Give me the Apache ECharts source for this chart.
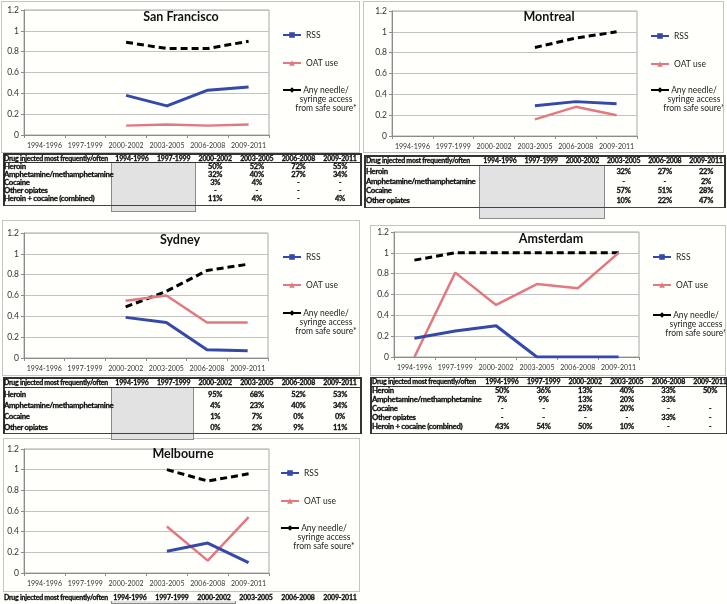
<!DOCTYPE html>
<html>
<head>
<meta charset="utf-8">
<script src="https://cdn.jsdelivr.net/npm/echarts@6/dist/echarts.min.js"></script>
<style>
  html, body { margin: 0; padding: 0; background: #fffffb; }
  #chart { position: absolute; left: 0; top: 0; width: 727px; height: 604px; }
  #overlay { position: absolute; left: 0; top: 0; width: 727px; height: 604px; pointer-events: none; }
  .t { position: absolute; white-space: nowrap; line-height: 1; font-family: Lato, "Liberation Sans", sans-serif;
       font-weight: bold; color: #111; -webkit-text-stroke: 0.3px #111; }
</style>
</head>
<body>
<div id="chart"></div>
<div id="overlay"></div>
<script>
// ---- data ----
const periods = ['1994-1996', '1997-1999', '2000-2002', '2003-2005', '2006-2008', '2009-2011'];
const seriesNames = ['RSS', 'OAT use', 'Any needle/\nsyringe access\nfrom safe soure*'];

const sfRss = [null, null, 0.38, 0.28, 0.43, 0.46];
const sfOat = [null, null, 0.09, 0.10, 0.09, 0.10];
const sfAny = [null, null, 0.89, 0.83, 0.83, 0.90];

const mtRss = [null, null, null, 0.29, 0.33, 0.31];
const mtOat = [null, null, null, 0.16, 0.28, 0.20];
const mtAny = [null, null, null, 0.85, 0.94, 1.00];

const syRss = [null, null, 0.39, 0.34, 0.08, 0.07];
const syOat = [null, null, 0.55, 0.60, 0.34, 0.34];
const syAny = [null, null, 0.49, 0.64, 0.84, 0.90];

const amRss = [0.18, 0.25, 0.30, 0, 0, 0];
const amOat = [0, 0.81, 0.50, 0.70, 0.66, 1.00];
const amAny = [0.93, 1, 1, 1, 1, 1];

const mbRss = [null, null, null, 0.21, 0.29, 0.10];
const mbOat = [null, null, null, 0.45, 0.12, 0.54];
const mbAny = [null, null, null, 1.00, 0.89, 0.96];

const tableHeader = 'Drug injected most frequently/often';
const drugLabels = ['Heroin', 'Amphetamine/methamphetamine', 'Cocaine', 'Other opiates', 'Heroin + cocaine (combined)'];

const sfShare = [
  ['', '', '50%', '52%', '72%', '55%'],
  ['', '', '32%', '40%', '27%', '34%'],
  ['', '', '3%', '4%', '-', '-'],
  ['', '', '-', '-', '-', '-'],
  ['', '', '11%', '4%', '-', '4%']
];
const mtShare = [
  ['', '', '', '32%', '27%', '22%'],
  ['', '', '', '-', '-', '2%'],
  ['', '', '', '57%', '51%', '28%'],
  ['', '', '', '10%', '22%', '47%']
];
const syShare = [
  ['', '', '95%', '68%', '52%', '53%'],
  ['', '', '4%', '23%', '40%', '34%'],
  ['', '', '1%', '7%', '0%', '0%'],
  ['', '', '0%', '2%', '9%', '11%']
];
const amShare = [
  ['50%', '36%', '13%', '40%', '33%', '50%'],
  ['7%', '9%', '13%', '20%', '33%', ''],
  ['-', '-', '25%', '20%', '-', '-'],
  ['-', '-', '-', '-', '33%', '-'],
  ['43%', '54%', '50%', '10%', '-', '-']
];

// ---- layout ----
const panels = [
  { title: 'San Francisco', rss: sfRss, oat: sfOat, any: sfAny,
    grid: { left: 24, top: 10, width: 245, height: 125 }, titleAt: [181, 10],
    legendX: 282, legendY: [35, 63, 90] },
  { title: 'Montreal', rss: mtRss, oat: mtOat, any: mtAny,
    grid: { left: 392, top: 11, width: 245, height: 125 }, titleAt: [549, 10],
    legendX: 650, legendY: [36, 64, 90] },
  { title: 'Sydney', rss: syRss, oat: syOat, any: syAny,
    grid: { left: 24, top: 233, width: 244, height: 125 }, titleAt: [180, 233],
    legendX: 282, legendY: [257, 285, 313] },
  { title: 'Amsterdam', rss: amRss, oat: amOat, any: amAny,
    grid: { left: 394, top: 232, width: 245, height: 125 }, titleAt: [551, 232],
    legendX: 652, legendY: [257, 285, 315] },
  { title: 'Melbourne', rss: mbRss, oat: mbOat, any: mbAny,
    grid: { left: 24, top: 449, width: 245, height: 124 }, titleAt: [183, 447],
    legendX: 280, legendY: [473, 501, 528] }
];

const frames = [
  [1, 1, 359, 152], [363, 1, 361, 152], [2, 220, 358, 156], [370, 225, 356, 151], [3, 438, 357, 154]
];

const tables = [
  { rows: sfShare, x0: 3, x1: 360, c0: 132, step: 41.6, headTop: 153, headBot: 162, headY: 157.5,
    rowY: [167, 175, 183, 191, 199], bottom: 205, grey: [111, 195, 162, 212], labelX: 4 },
  { rows: mtShare, x0: 364, x1: 724, c0: 500, step: 41.2, headTop: 155, headBot: 165, headY: 160,
    rowY: [172, 181.5, 191, 200.5], bottom: 207, grey: [479, 604, 165, 219], labelX: 366 },
  { rows: syShare, x0: 3, x1: 360, c0: 132, step: 41.6, headTop: 377, headBot: 387, headY: 382,
    rowY: [395, 405.5, 416.5, 427.5], bottom: 433, grey: [111, 193, 387, 440], labelX: 4 },
  { rows: amShare, x0: 370, x1: 726, c0: 502, step: 41.6, headTop: 376.5, headBot: 385.5, headY: 381,
    rowY: [391, 400, 409, 418, 427], bottom: 432.5, grey: null, labelX: 372 },
  { rows: null, x0: 3, x1: 360, c0: 130, step: 42, headY: 597, grey: [111, 235, 601, 604], labelX: 4 }
];

// ---- chart ----
const axisGrey = '#8c8c8c';
const legendFont = { fontFamily: 'Lato', fontSize: 8.5, lineHeight: 9, color: '#222' };
const option = {
  animation: false,
  backgroundColor: '#fffffb',
  textStyle: { fontFamily: 'Lato' },
  title: [], grid: [], xAxis: [], yAxis: [], legend: [], series: []
};

panels.forEach((p, i) => {
  option.title.push({
    text: p.title, left: p.titleAt[0], top: p.titleAt[1], textAlign: 'center', padding: 0,
    textStyle: { fontFamily: 'Lato', fontSize: 12.5, fontWeight: 'bold', color: '#111' }
  });
  option.grid.push(Object.assign({ show: true, borderColor: '#a8a8a8', borderWidth: 1 }, p.grid));
  option.xAxis.push({
    type: 'category', gridIndex: i, data: periods, boundaryGap: true,
    axisLine: { lineStyle: { color: axisGrey } },
    axisTick: { show: true, length: 3, interval: 0, lineStyle: { color: axisGrey } },
    axisLabel: { interval: 0, fontSize: 7, color: '#333', margin: 7 }
  });
  option.yAxis.push({
    type: 'value', gridIndex: i, min: 0, max: 1.2, interval: 0.2,
    axisLine: { show: true, lineStyle: { color: axisGrey } },
    axisTick: { show: true, length: 3, lineStyle: { color: axisGrey } },
    splitLine: { lineStyle: { color: '#c2c2c2' } },
    axisLabel: { fontSize: 8.5, color: '#333', margin: 5 }
  });
  option.series.push(
    { type: 'line', name: seriesNames[0], xAxisIndex: i, yAxisIndex: i, data: p.rss,
      symbol: 'rect', symbolSize: 6, showSymbol: false, z: 4,
      lineStyle: { color: '#3549aa', width: 3 }, itemStyle: { color: '#3549aa' } },
    { type: 'line', name: seriesNames[1], xAxisIndex: i, yAxisIndex: i, data: p.oat,
      symbol: 'triangle', symbolSize: 7, showSymbol: false, z: 3,
      lineStyle: { color: '#e27880', width: 2.5 }, itemStyle: { color: '#e27880' } },
    { type: 'line', name: seriesNames[2], xAxisIndex: i, yAxisIndex: i, data: p.any,
      symbol: 'diamond', symbolSize: 7, showSymbol: false, z: 2,
      lineStyle: { color: '#000', width: 3, type: [7, 4] }, itemStyle: { color: '#000' } }
  );
  seriesNames.forEach((nm, k) => {
    const multi = k === 2;
    const lg = {
      orient: 'vertical', left: p.legendX, top: p.legendY[k] - (multi ? 22.5 : 4.5),
      padding: 0, itemWidth: 18, itemHeight: 7, selectedMode: false,
      textStyle: Object.assign({}, legendFont), data: [nm]
    };
    if (multi) {
      // first text line sits level with the icon, lines centred like the original
      lg.formatter = n => '{c| }\n{c| }\n' + n.split('\n').map(s => '{c|' + s + '}').join('\n');
      lg.textStyle.rich = { c: Object.assign({ width: 40, align: 'center' }, legendFont) };
      lg.lineStyle = { type: 'solid' };
    }
    option.legend.push(lg);
  });
});

const chart = echarts.init(document.getElementById('chart'));
chart.setOption(option);

// ---- frames and tables ----
const overlay = document.getElementById('overlay');
function box(x, y, w, h, css) {
  const d = document.createElement('div');
  d.style.cssText = `position:absolute;left:${x}px;top:${y}px;width:${w}px;height:${h}px;box-sizing:border-box;${css}`;
  overlay.appendChild(d);
}
function text(s, x, y, align, size, spacing) {
  const d = document.createElement('div');
  d.className = 't';
  d.textContent = s;
  const tx = align === 'center' ? '-50%' : '0';
  d.style.cssText += `left:${x}px;top:${y}px;font-size:${size}px;letter-spacing:${spacing}px;transform:translate(${tx},-50%);`;
  overlay.appendChild(d);
}

frames.forEach(f => box(f[0], f[1], f[2], f[3], 'border:1px solid #c4c4c4;'));

tables.forEach(t => {
  if (t.grey) {
    box(t.grey[0], t.grey[2], t.grey[1] - t.grey[0] + 1, t.grey[3] - t.grey[2],
      'background:#e2e2e2;border:1px solid #8a8a8a;border-top:none;');
  }
  if (t.rows) {
    box(t.x0, t.headTop, t.x1 - t.x0, 1.5, 'background:#333;');
    box(t.x0, t.headBot, t.x1 - t.x0, 1, 'background:#333;');
    box(t.x0, t.bottom, t.x1 - t.x0, 1, 'background:#444;');
    box(t.x0, t.headTop, 1.5, t.bottom - t.headTop + 1, 'background:#333;');
    box(t.x1, t.headTop, 1.5, t.bottom - t.headTop + 1, 'background:#333;');
  }
  text(tableHeader, t.labelX, t.headY, 'left', 7, -0.25);
  periods.forEach((pd, k) => text(pd, t.c0 + k * t.step, t.headY, 'center', 7, -0.2));
  if (t.rows) {
    t.rows.forEach((r, j) => {
      text(drugLabels[j], t.labelX, t.rowY[j], 'left', 7.8, -0.3);
      r.forEach((v, k) => { if (v) text(v, t.c0 + k * t.step, t.rowY[j], 'center', 7.5, -0.2); });
    });
  }
});
</script>
</body>
</html>
